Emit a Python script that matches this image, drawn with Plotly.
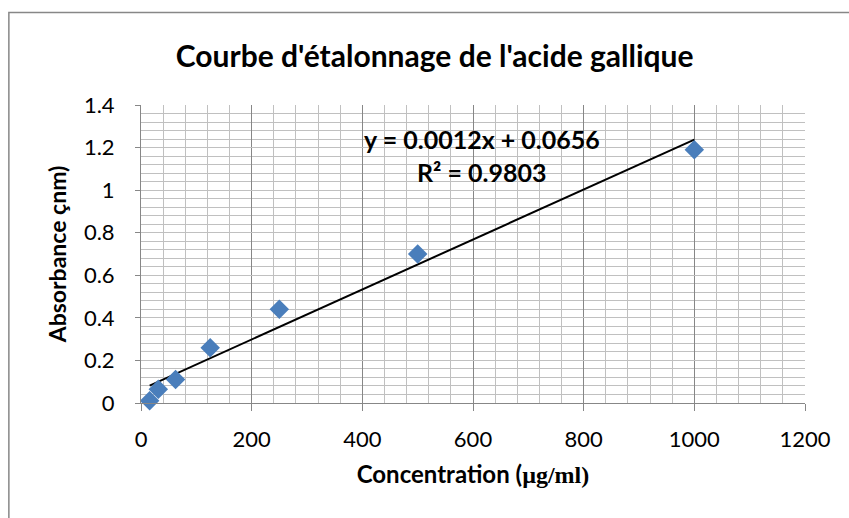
import numpy as np
import plotly.graph_objects as go

# Data
concentration = [15.625, 31.25, 62.5, 125, 250, 500, 1000]
absorbance = [0.01, 0.065, 0.11, 0.26, 0.44, 0.70, 1.19]

title_text = "Courbe d'étalonnage de l'acide gallique"
x_title = 'Concentration (<span style="font-family:Liberation Serif, Times New Roman, serif">µg/ml)</span>'
y_title = "Absorbance çnm)"
eq_text = "y = 0.0012x + 0.0656"
r2_text = "R² = 0.9803"

FONT = "Lato, Open Sans, sans-serif"

slope, intercept = np.polyfit(concentration, absorbance, 1)
x_fit = [min(concentration), max(concentration)]
y_fit = [slope * v + intercept for v in x_fit]

fig = go.Figure()
fig.add_trace(go.Scatter(x=x_fit, y=y_fit, mode="lines",
                         line=dict(color="black", width=2), showlegend=False,
                         cliponaxis=False))
fig.add_trace(go.Scatter(x=concentration, y=absorbance, mode="markers",
                         marker=dict(symbol="diamond", size=15, color="#4a7ebb",
                                     line=dict(width=0)),
                         showlegend=False, cliponaxis=False))

fig.add_annotation(x=616, y=1.24, xref="x", yref="y", text=f"<b>{eq_text}</b>",
                   showarrow=False, font=dict(family=FONT, size=25, color="black"))
fig.add_annotation(x=616, y=1.085, xref="x", yref="y", text=f"<b>{r2_text}</b>",
                   showarrow=False, font=dict(family=FONT, size=25, color="black"))

# outer chart border (left and top visible)
fig.add_shape(type="rect", xref="paper", yref="paper",
              x0=-0.199, x1=1.5, y0=-1, y1=1.31,
              line=dict(color="#878787", width=1.5), layer="below")

fig.update_layout(
    width=849, height=518,
    margin=dict(l=141, r=44, t=105, b=115),
    paper_bgcolor="white", plot_bgcolor="white",
    font=dict(family=FONT, size=22, color="black"),
    title=dict(text=f"<b>{title_text}</b>", x=0.512, xanchor="center",
               y=1 - 56 / 518, yanchor="middle",
               font=dict(family=FONT, size=30, color="black")),
)
fig.update_xaxes(
    range=[0, 1200], dtick=200, tick0=0,
    showgrid=True, gridcolor="#878787", gridwidth=1,
    minor=dict(dtick=40, showgrid=True, gridcolor="#c0c0c0", gridwidth=1),
    showline=True, linecolor="#878787", linewidth=1,
    ticks="outside", ticklen=7, tickcolor="#878787",
    ticklabelstandoff=10,
    tickfont=dict(size=22),
    zeroline=False, mirror=False,
    title=dict(text=f"<b>{x_title}</b>", font=dict(family=FONT, size=24), standoff=14),
)
fig.update_yaxes(
    range=[0, 1.4], dtick=0.2, tick0=0,
    showgrid=True, gridcolor="#c0c0c0", gridwidth=1,
    minor=dict(dtick=0.04, showgrid=True, gridcolor="#c0c0c0", gridwidth=1),
    showline=True, linecolor="#878787", linewidth=1,
    ticks="outside", ticklen=5, tickcolor="#878787",
    ticklabelstandoff=16,
    tickfont=dict(size=22),
    zeroline=False,
    title=dict(text=f"<b>{y_title}</b>", font=dict(family=FONT, size=23), standoff=10),
)

fig.write_html("out.html", config={"displayModeBar": False},
               post_script="document.body.style.margin='0';")
